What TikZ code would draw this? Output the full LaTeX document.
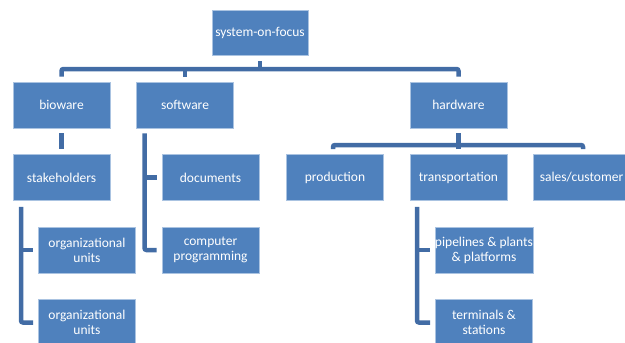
\documentclass[tikz,border=0pt]{standalone}
\usepackage{fontspec}
\setmainfont{Carlito}
\usetikzlibrary{calc}
\definecolor{boxblue}{RGB}{79,129,189}
\definecolor{boxedge}{RGB}{170,195,225}
\definecolor{linkblue}{RGB}{66,108,165}
\tikzset{
  unit/.style={rectangle, fill=boxblue, draw=boxedge, line width=0.7pt,
    minimum width=97pt, minimum height=46pt, inner sep=0pt,
    text=white, align=center, font=\fontsize{13.5}{15.2}\selectfont},
  conn/.style={draw=linkblue, line width=4.5pt, rounded corners=2pt}
}
\begin{document}
\begin{tikzpicture}[x=1pt, y=-1pt]
\useasboundingbox (0,0) rectangle (625,343);
\clip (0,0) rectangle (625,343);

% top level
\node[unit, minimum width=96pt, minimum height=45pt] (sof) at (260,32.5) {system-on-focus};

% second level
\node[unit] (bio) at (61.5,105) {bioware};
\node[unit] (sw)  at (185,105) {software};
\node[unit] (hw)  at (458.5,105) {hardware};

% bioware branch
\node[unit] (sh)   at (61.5,177.5) {stakeholders};
\node[unit] (org1) at (87,250) {organizational\\units};
\node[unit] (org2) at (87,322.5) {organizational\\units};

% software branch
\node[unit] (doc) at (210.5,177.5) {documents};
\node[unit] (cp)  at (210.5,250) {computer\\programming};

% hardware branch
\node[unit] (prod)  at (335,177.5) {production};
\node[unit] (trans) at (458.5,177.5) {transportation};
\node[unit] (sales) at (581.5,177.5) {sales/customer};
\node[unit] (pipe)  at (484,250) {pipelines \& plants\\\& platforms};
\node[unit] (term)  at (484,322.5) {terminals \&\\stations};

% top bar
\coordinate (bar) at (260,69);
\draw[conn] ([yshift=5pt]bio.north) |- (bar) -| ([yshift=5pt]hw.north);
\draw[conn] ([yshift=5pt]sw.north) -- (sw.north |- bar);
\draw[conn] ([yshift=-6pt]sof.south) -- (bar);

% bioware to stakeholders
\draw[conn] ([yshift=-5pt]bio.south) -- ([yshift=5pt]sh.north);

% hardware bar
\coordinate (hbar) at (458.5,145);
\draw[conn] ([yshift=-5pt]hw.south) -- (hbar);
\draw[conn] ($(prod.north)+(-2,-5)$) |- (hbar) -| ($(sales.north)+(1.5,-5)$);
\draw[conn] ([yshift=5pt]trans.north) -- (trans.north |- hbar);

% side brackets
\coordinate (shx) at (21,0);
\draw[conn] ($(sh.south -| shx)+(0,6)$) |- ([xshift=-5pt]org2.west);
\draw[conn] (org1.west -| shx) -- ([xshift=-5pt]org1.west);

\coordinate (swx) at (144.5,0);
\draw[conn] ($(sw.south -| swx)+(0,5)$) |- ([xshift=-5pt]cp.west);
\draw[conn] (doc.west -| swx) -- ([xshift=-5pt]doc.west);

\coordinate (trx) at (417,0);
\draw[conn] ($(trans.south -| trx)+(0,6)$) |- ([xshift=-5pt]term.west);
\draw[conn] (pipe.west -| trx) -- ([xshift=-5pt]pipe.west);
\end{tikzpicture}
\end{document}
